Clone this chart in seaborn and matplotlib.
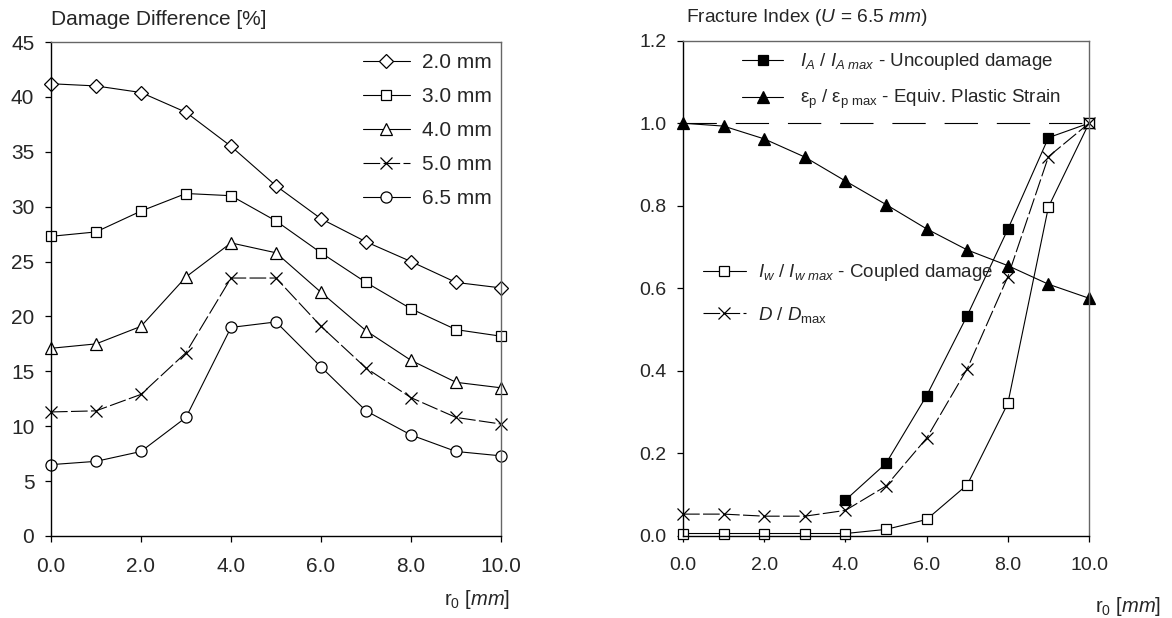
import matplotlib
matplotlib.use("Agg")
import matplotlib.pyplot as plt
import seaborn as sns

# --- données ---
r0 = [0, 1, 2, 3, 4, 5, 6, 7, 8, 9, 10]

# panneau gauche : différence d'endommagement [%]
diff_20 = [41.2, 41.0, 40.4, 38.6, 35.5, 31.9, 28.9, 26.8, 25.0, 23.1, 22.6]
diff_30 = [27.3, 27.7, 29.6, 31.2, 31.0, 28.7, 25.8, 23.1, 20.7, 18.8, 18.2]
diff_40 = [17.1, 17.5, 19.1, 23.6, 26.7, 25.8, 22.2, 18.7, 16.0, 14.0, 13.5]
diff_50 = [11.3, 11.4, 12.9, 16.7, 23.5, 23.5, 19.1, 15.3, 12.6, 10.8, 10.2]
diff_65 = [6.5, 6.8, 7.7, 10.8, 19.0, 19.5, 15.4, 11.4, 9.2, 7.7, 7.3]
labels_left = ["2.0 mm", "3.0 mm", "4.0 mm", "5.0 mm", "6.5 mm"]

# panneau droit : indices de rupture normalisés
r0_ia = [4, 5, 6, 7, 8, 9, 10]
ia_norm = [0.087, 0.176, 0.34, 0.534, 0.743, 0.965, 1.0]
eps_norm = [1.0, 0.993, 0.962, 0.918, 0.86, 0.803, 0.744, 0.693, 0.655, 0.61, 0.576]
iw_norm = [0.006, 0.006, 0.006, 0.006, 0.006, 0.016, 0.04, 0.124, 0.321, 0.797, 1.0]
d_norm = [0.053, 0.053, 0.048, 0.048, 0.062, 0.121, 0.237, 0.405, 0.628, 0.919, 1.0]

sns.set_style("ticks")
plt.rcParams["font.family"] = ["Liberation Sans", "DejaVu Sans"]
plt.rcParams["mathtext.fontset"] = "custom"
plt.rcParams["mathtext.rm"] = "Liberation Sans"
plt.rcParams["mathtext.it"] = "Liberation Sans:italic"
plt.rcParams["mathtext.bf"] = "Liberation Sans:bold"

fig = plt.figure(figsize=(11.72, 6.18), dpi=100)
ax1 = fig.add_axes([0.0435, 0.1327, 0.384, 0.7993])
ax2 = fig.add_axes([0.5828, 0.1327, 0.3464, 0.8015])

DASH = (0, (15, 3))
base = dict(color="black", linewidth=0.8, markeredgecolor="black",
            markeredgewidth=0.9, clip_on=False)

# --- panneau gauche ---
styles_left = [("D", 7, "-"), ("s", 7.5, "-"), ("^", 8.5, "-"),
               ("x", 9, DASH), ("o", 8, "-")]
series_left = [diff_20, diff_30, diff_40, diff_50, diff_65]
for vals, lab, (mk, ms, ls) in zip(series_left, labels_left, styles_left):
    sns.lineplot(x=r0, y=vals, ax=ax1, marker=mk, markersize=ms,
                 markerfacecolor="white", linestyle=ls, label=lab, **base)

ax1.set_xlim(0, 10)
ax1.set_ylim(0, 45)
ax1.set_xticks([0, 2, 4, 6, 8, 10])
ax1.set_xticklabels(["0.0", "2.0", "4.0", "6.0", "8.0", "10.0"])
ax1.set_yticks(range(0, 46, 5))
ax1.legend(loc="upper left", bbox_to_anchor=(0.693, 0.977), frameon=False,
           fontsize=15, handlelength=2.26, handletextpad=0.58,
           labelspacing=0.72, borderpad=0, borderaxespad=0)
ax1.text(0.0, 1.026, "Damage Difference [%]", transform=ax1.transAxes,
         ha="left", va="bottom", fontsize=15)
ax1.text(1.02, -0.106, r"r$_0$ [$mm$]", transform=ax1.transAxes,
         ha="right", va="top", fontsize=14.5)

# --- panneau droit ---
ax2.axhline(1.0, color="black", linewidth=0.8, linestyle=(0, (30, 17)), zorder=1)
sns.lineplot(x=r0_ia, y=ia_norm, ax=ax2, marker="s", markersize=6.5,
             markerfacecolor="black", linestyle="-",
             label=r"$I_A$ / $I_{A\ max}$ - Uncoupled damage", **base)
sns.lineplot(x=r0, y=eps_norm, ax=ax2, marker="^", markersize=8,
             markerfacecolor="black", linestyle="-",
             label=r"$\mathrm{\varepsilon_p}$ / $\mathrm{\varepsilon_{p\ max}}$ - Equiv. Plastic Strain",
             **base)
sns.lineplot(x=r0, y=iw_norm, ax=ax2, marker="s", markersize=6.5,
             markerfacecolor="white", linestyle="-",
             label=r"$I_w$ / $I_{w\ max}$ - Coupled damage", **base)
sns.lineplot(x=r0, y=d_norm, ax=ax2, marker="x", markersize=9,
             linestyle=DASH, label=r"$D$ / $D_\mathrm{max}$", **base)

handles, labels = ax2.get_legend_handles_labels()
leg_top = ax2.legend(handles[:2], labels[:2], loc="upper left",
                     bbox_to_anchor=(0.145, 0.979), frameon=False, fontsize=13.5,
                     handlelength=2.2, handletextpad=0.91, labelspacing=0.85,
                     borderpad=0, borderaxespad=0)
ax2.add_artist(leg_top)
ax2.legend(handles[2:], labels[2:], loc="upper left",
           bbox_to_anchor=(0.049, 0.553), frameon=False, fontsize=13.5,
           handlelength=2.3, handletextpad=0.63, labelspacing=1.15,
           borderpad=0, borderaxespad=0)

ax2.set_xlim(0, 10)
ax2.set_ylim(0, 1.2)
ax2.set_xticks([0, 2, 4, 6, 8, 10])
ax2.set_xticklabels(["0.0", "2.0", "4.0", "6.0", "8.0", "10.0"])
ax2.set_yticks([0, 0.2, 0.4, 0.6, 0.8, 1.0, 1.2])
ax2.set_yticklabels(["0.0", "0.2", "0.4", "0.6", "0.8", "1.0", "1.2"])
ax2.text(0.008, 1.026, r"Fracture Index ($U$ = 6.5 $mm$)", transform=ax2.transAxes,
         ha="left", va="bottom", fontsize=13.8)
ax2.text(1.178, -0.119, r"r$_0$ [$mm$]", transform=ax2.transAxes,
         ha="right", va="top", fontsize=14.5)

for ax, size in ((ax1, 15), (ax2, 14)):
    ax.tick_params(axis="both", labelsize=size, length=4, width=0.9,
                   direction="out", color="black")
    ax.tick_params(axis="x", pad=11)
    ax.tick_params(axis="y", pad=8)
    for side in ("left", "bottom"):
        ax.spines[side].set_color("black")
        ax.spines[side].set_linewidth(1.0)
    for side in ("top", "right"):
        ax.spines[side].set_visible(True)
        ax.spines[side].set_color("#666666")
        ax.spines[side].set_linewidth(1.0)

fig.savefig("out.png", dpi=100)
